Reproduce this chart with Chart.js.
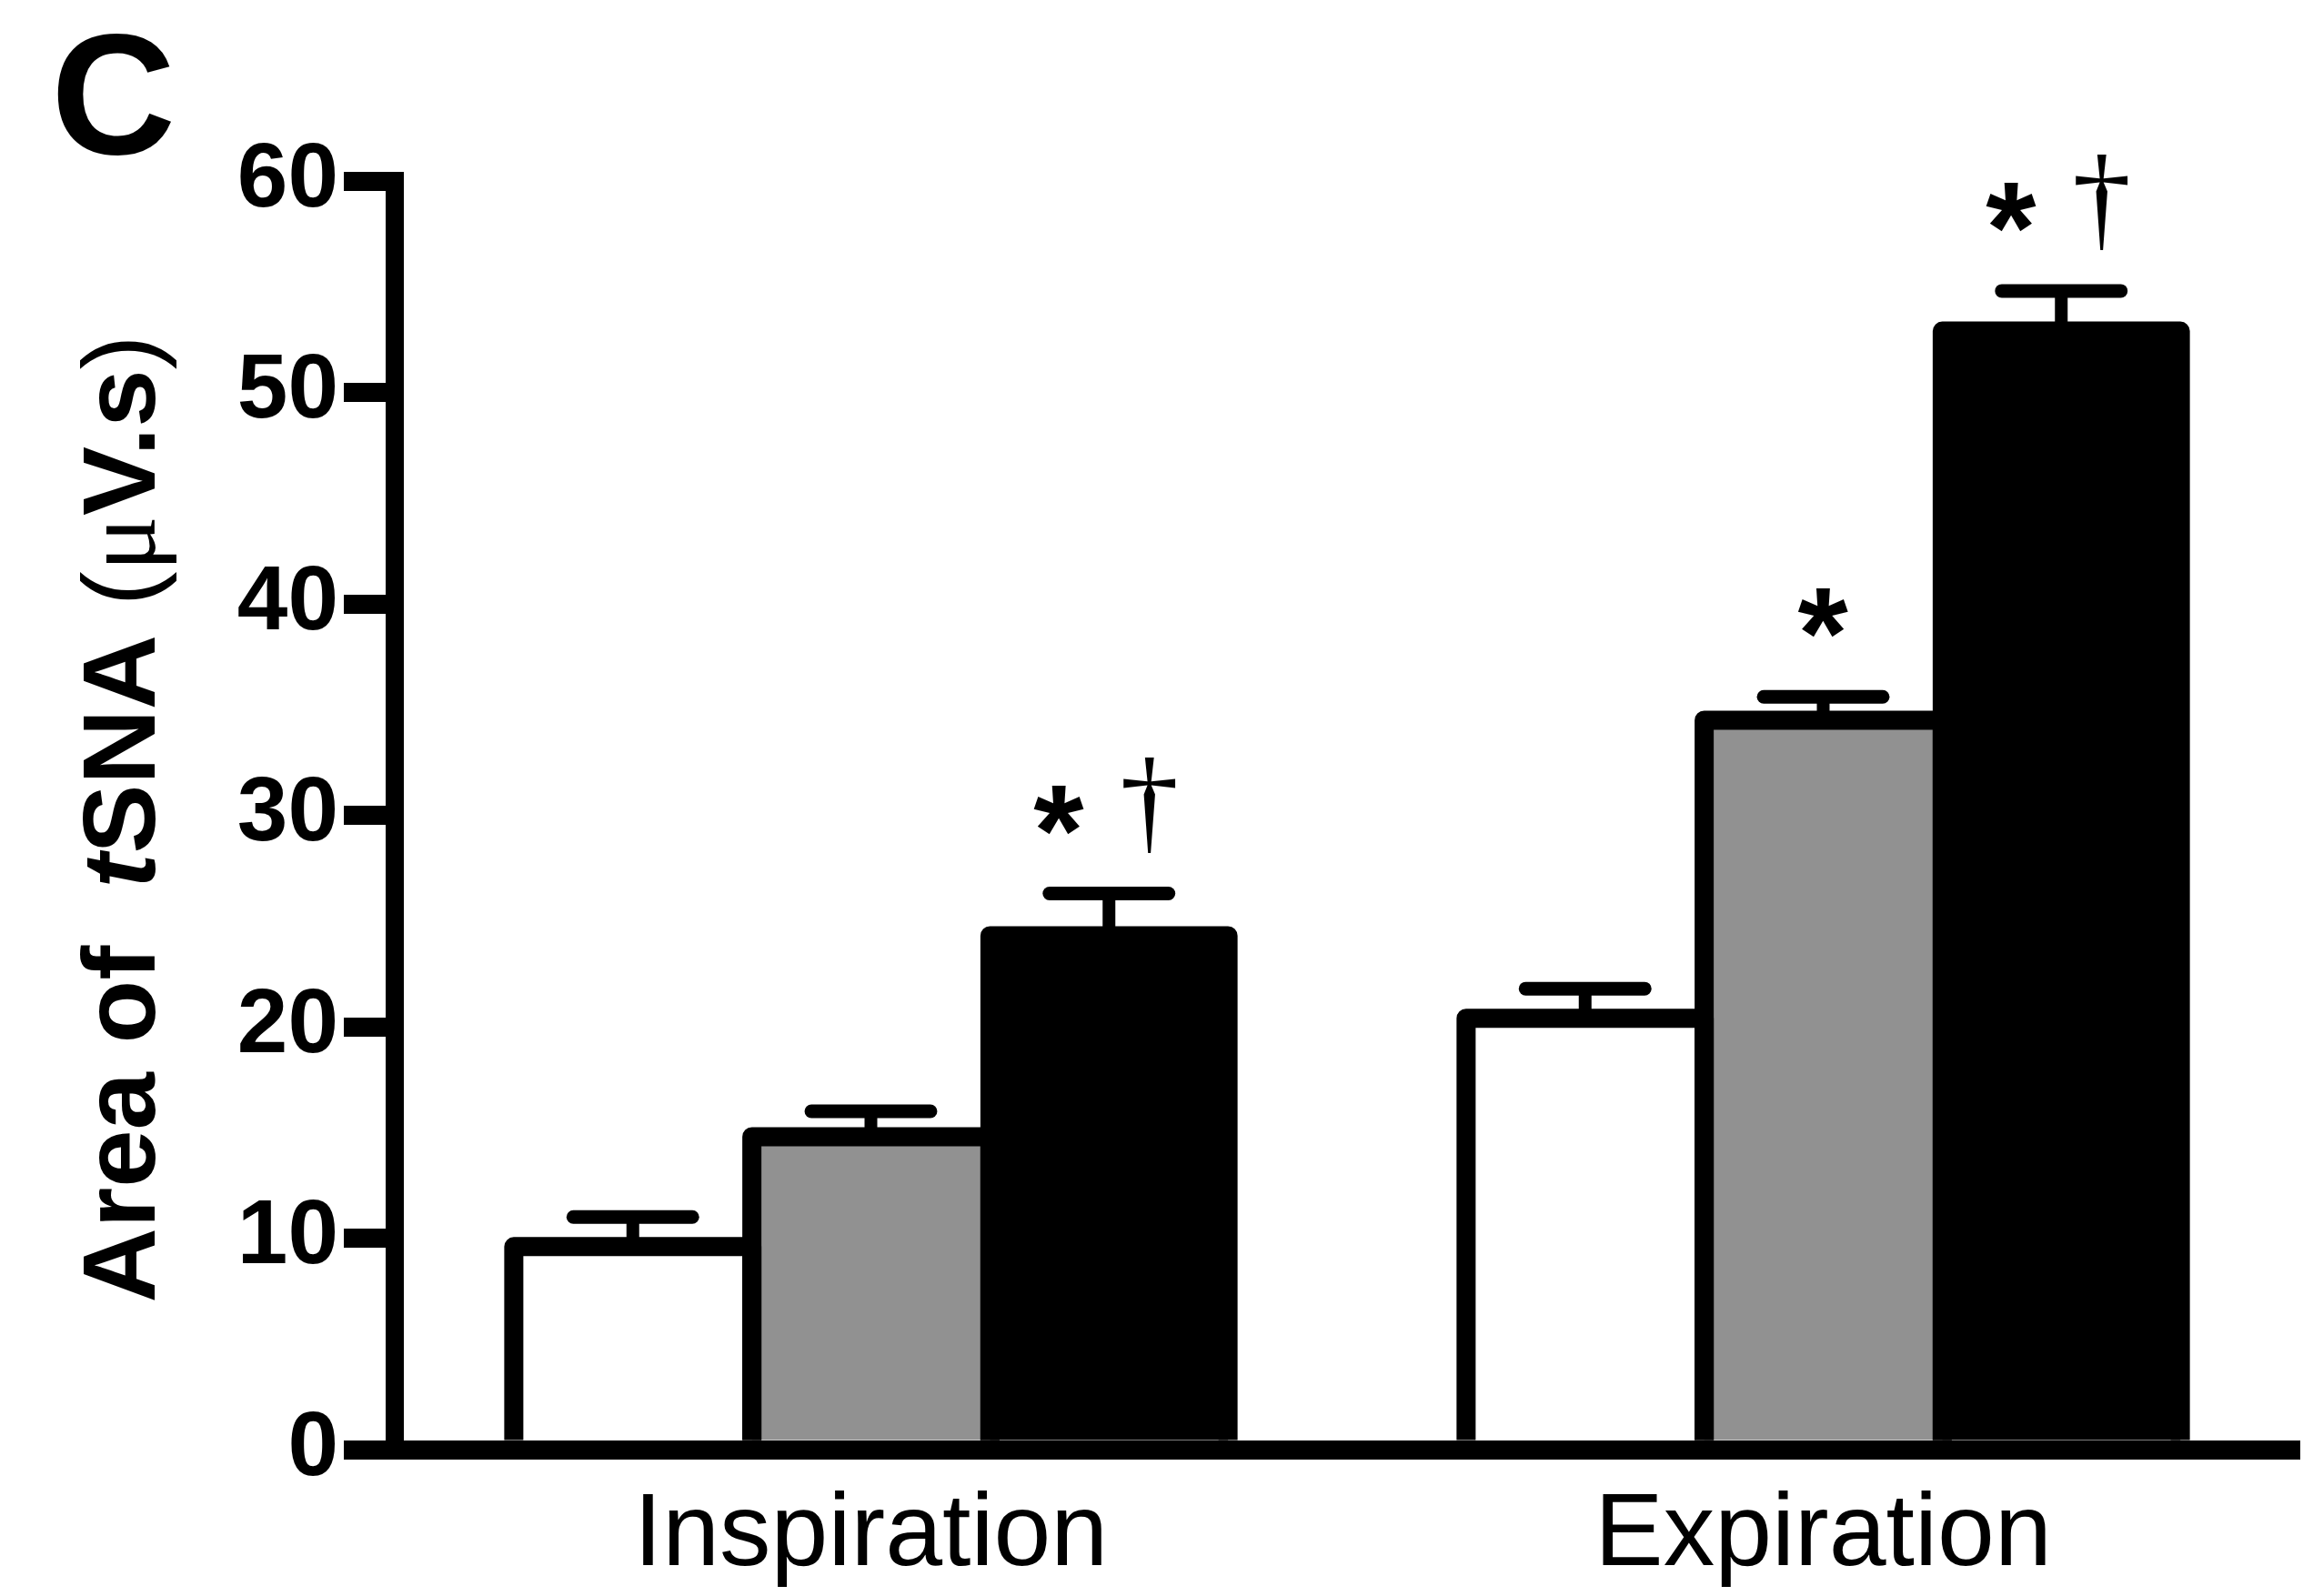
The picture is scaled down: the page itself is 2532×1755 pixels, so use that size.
<!DOCTYPE html>
<html>
<head>
<meta charset="utf-8">
<script src="https://cdn.jsdelivr.net/npm/chart.js@4/dist/chart.umd.min.js"></script>
<style>
  html, body { margin: 0; padding: 0; background: #ffffff; }
  #wrap { width: 2532px; height: 1755px; }
  canvas { display: block; }
</style>
</head>
<body>
<div id="wrap"><canvas id="chart" width="2532" height="1755"></canvas></div>
<script>
// Respiratory phases on the x axis
const categories = ['Inspiration', 'Expiration'];

// Area of tSNA (µV.s), mean and SEM for the three groups
const openMeans   = [9.6, 20.4];
const openSem     = [1.4, 1.4];
const grayMeans   = [14.8, 34.5];
const graySem     = [1.2, 1.1];
const filledMeans = [24.3, 52.9];
const filledSem   = [2.0, 1.9];

// Significance marks drawn above each bar
const openMarks   = ['', ''];
const grayMarks   = ['', '*'];
const filledMarks = ['*†', '*†'];

// Y axis range
const yMin = 0;
const yMax = 60;
const yStep = 10;

const SANS = '"Liberation Sans", Arial, Helvetica, sans-serif';
const SERIF = '"Liberation Serif", "Times New Roman", serif';
const STROKE = 21;

const datasets = [
  { label: 'Open',   data: openMeans,   sem: openSem,   marks: openMarks,   backgroundColor: '#ffffff' },
  { label: 'Gray',   data: grayMeans,   sem: graySem,   marks: grayMarks,   backgroundColor: '#919191' },
  { label: 'Filled', data: filledMeans, sem: filledSem, marks: filledMarks, backgroundColor: '#000000' }
].map(d => Object.assign(d, { borderWidth: 0, categoryPercentage: 0.75, barPercentage: 1.0 }));

// Outlines, SEM whiskers and significance symbols, all placed from the bar elements
const barDecor = {
  id: 'barDecor',
  afterDatasetsDraw(chart) {
    const ctx = chart.ctx;
    const yScale = chart.scales.y;
    ctx.save();
    ctx.strokeStyle = '#000';
    ctx.fillStyle = '#000';

    chart.data.datasets.forEach((ds, di) => {
      chart.getDatasetMeta(di).data.forEach(bar => {
        const { x, y, base, width } = bar.getProps(['x', 'y', 'base', 'width'], true);
        const l = x - width / 2, r = x + width / 2;
        ctx.lineWidth = STROKE;
        ctx.lineJoin = 'round';
        ctx.lineCap = 'butt';
        ctx.beginPath();
        ctx.moveTo(l, base);
        ctx.lineTo(l, y);
        ctx.lineTo(r, y);
        ctx.lineTo(r, base);
        ctx.stroke();
      });
    });

    chart.data.datasets.forEach((ds, di) => {
      chart.getDatasetMeta(di).data.forEach((bar, i) => {
        const { x, y, width } = bar.getProps(['x', 'y', 'width'], true);
        const top = yScale.getPixelForValue(ds.data[i] + ds.sem[i]);
        // stem
        ctx.lineCap = 'butt';
        ctx.lineWidth = 14;
        ctx.beginPath();
        ctx.moveTo(x, y);
        ctx.lineTo(x, top);
        ctx.stroke();
        // cap
        ctx.lineCap = 'round';
        ctx.lineWidth = 15;
        const half = width * 0.5 / 2;
        ctx.beginPath();
        ctx.moveTo(x - half, top);
        ctx.lineTo(x + half, top);
        ctx.stroke();

        const marks = ds.marks[i];
        if (!marks) return;
        const hasStar = marks.includes('*');
        const hasDagger = marks.includes('†');
        const both = hasStar && hasDagger;
        if (hasStar) {
          drawGlyph(ctx, '*', 'bold', SANS, 54, both ? x - 55 : x, top - 92, 'center');
        }
        if (hasDagger) {
          drawGlyph(ctx, '†', 'normal', SERIF, 105, x + 44, top - 45, 'bottom');
        }
      });
    });
    ctx.restore();
  }
};

// Draws a glyph scaled to a given ink height, centred horizontally on cx
function drawGlyph(ctx, ch, weight, family, inkHeight, cx, yRef, mode) {
  ctx.font = weight + ' 100px ' + family;
  let m = ctx.measureText(ch);
  const size = 100 * inkHeight / (m.actualBoundingBoxAscent + m.actualBoundingBoxDescent);
  ctx.font = weight + ' ' + size.toFixed(1) + 'px ' + family;
  m = ctx.measureText(ch);
  ctx.textAlign = 'left';
  ctx.textBaseline = 'alphabetic';
  const inkLeft = -m.actualBoundingBoxLeft;
  const inkW = m.actualBoundingBoxRight + m.actualBoundingBoxLeft;
  const xDraw = cx - inkW / 2 - inkLeft;
  let baseline;
  if (mode === 'center') {
    baseline = yRef + (m.actualBoundingBoxAscent - m.actualBoundingBoxDescent) / 2;
  } else {
    baseline = yRef - m.actualBoundingBoxDescent;
  }
  ctx.fillText(ch, xDraw, baseline);
}

// Panel letter and the rotated y-axis title with mixed styles
const panelText = {
  id: 'panelText',
  afterDraw(chart) {
    const ctx = chart.ctx;
    ctx.save();
    ctx.fillStyle = '#000';

    ctx.font = 'bold 190px ' + SANS;
    ctx.textAlign = 'left';
    ctx.textBaseline = 'alphabetic';
    const mc = ctx.measureText('C');
    ctx.fillText('C', 63 + mc.actualBoundingBoxLeft, 171 - mc.actualBoundingBoxDescent);

    const fs = 114;
    const segs = [
      { t: 'Area of  ', f: 'bold ' + fs + 'px ' + SANS },
      { t: 't',         f: 'italic bold ' + fs + 'px ' + SANS },
      { t: 'SNA ',      f: 'bold ' + fs + 'px ' + SANS },
      { t: '(',         f: 'normal ' + fs + 'px ' + SANS },
      { t: 'μ',         f: 'normal ' + fs + 'px ' + SERIF },
      { t: 'V.s',       f: 'bold ' + fs + 'px ' + SANS },
      { t: ')',         f: 'normal ' + fs + 'px ' + SANS }
    ];
    let total = 0;
    segs.forEach(s => { ctx.font = s.f; s.w = ctx.measureText(s.t).width; total += s.w; });
    const area = chart.chartArea;
    ctx.translate(170, (area.top + area.bottom) / 2 + 4);
    ctx.rotate(-Math.PI / 2);
    let xx = -total / 2;
    segs.forEach(s => { ctx.font = s.f; ctx.fillText(s.t, xx, 0); xx += s.w; });
    ctx.restore();
  }
};

new Chart(document.getElementById('chart'), {
  type: 'bar',
  data: { labels: categories, datasets },
  options: {
    responsive: false,
    animation: false,
    devicePixelRatio: 1,
    layout: { padding: { top: 199, right: 4, left: 0, bottom: 0 } },
    plugins: { legend: { display: false }, tooltip: { enabled: false }, title: { display: false } },
    scales: {
      x: {
        type: 'category',
        offset: true,
        z: 1,
        grid: { display: false },
        border: { display: true, width: 21, color: '#000' },
        ticks: { color: '#000', font: { family: SANS, size: 113 }, padding: 20, maxRotation: 0, autoSkip: false },
        afterFit(scale) { scale.height = 161; }
      },
      y: {
        min: yMin,
        max: yMax,
        ticks: { stepSize: yStep, color: '#000', font: { family: SANS, size: 100, weight: 'bold' }, padding: 6 },
        grid: { drawOnChartArea: false, drawTicks: true, tickLength: 56, tickWidth: 21, lineWidth: 21, color: '#000', tickColor: '#000' },
        border: { display: true, width: 20, color: '#000' },
        afterFit(scale) { scale.width = 434; }
      }
    }
  },
  plugins: [barDecor, panelText]
});
</script>
</body>
</html>
